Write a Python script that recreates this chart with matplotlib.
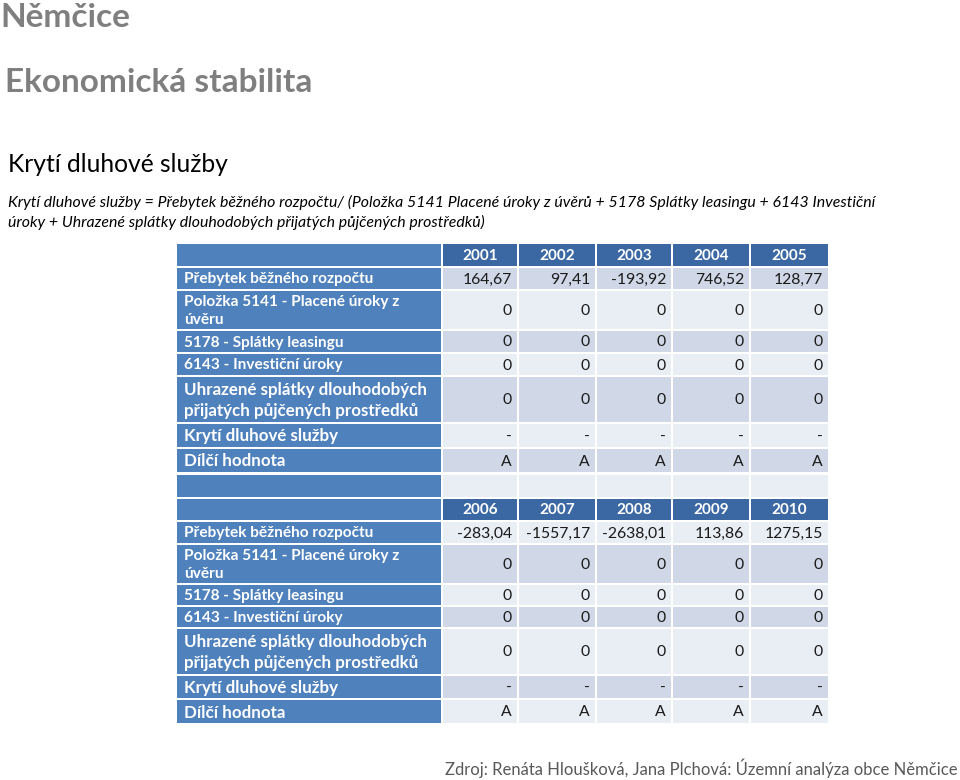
import matplotlib.pyplot as plt
from matplotlib.patches import Rectangle

plt.rcParams['font.family'] = ['Lato', 'DejaVu Sans']

# data
years_1 = ['2001', '2002', '2003', '2004', '2005']
years_2 = ['2006', '2007', '2008', '2009', '2010']
row_labels = ['Přebytek běžného rozpočtu',
              'Položka 5141 - Placené úroky z\núvěru',
              '5178 - Splátky leasingu',
              '6143 - Investiční úroky',
              'Uhrazené splátky dlouhodobých\npřijatých půjčených prostředků',
              'Krytí dluhové služby',
              'Dílčí hodnota']
prebytek_1 = [164.67, 97.41, -193.92, 746.52, 128.77]
prebytek_2 = [-283.04, -1557.17, -2638.01, 113.86, 1275.15]
polozka_5141_1 = [0, 0, 0, 0, 0]
polozka_5141_2 = [0, 0, 0, 0, 0]
leasing_1 = [0, 0, 0, 0, 0]
leasing_2 = [0, 0, 0, 0, 0]
invest_uroky_1 = [0, 0, 0, 0, 0]
invest_uroky_2 = [0, 0, 0, 0, 0]
splatky_1 = [0, 0, 0, 0, 0]
splatky_2 = [0, 0, 0, 0, 0]
kryti_1 = ['-', '-', '-', '-', '-']
kryti_2 = ['-', '-', '-', '-', '-']
dilci_1 = ['A', 'A', 'A', 'A', 'A']
dilci_2 = ['A', 'A', 'A', 'A', 'A']


def fmt(v):
    if isinstance(v, str):
        return v
    if v == 0:
        return '0'
    return f'{v:.2f}'.replace('.', ',')


block_1 = [prebytek_1, polozka_5141_1, leasing_1, invest_uroky_1, splatky_1, kryti_1, dilci_1]
block_2 = [prebytek_2, polozka_5141_2, leasing_2, invest_uroky_2, splatky_2, kryti_2, dilci_2]

# layout in pixels
W, H = 960, 780
fig = plt.figure(figsize=(W / 100, H / 100), dpi=100)
ax = fig.add_axes([0, 0, 1, 1])
ax.set_xlim(0, W)
ax.set_ylim(H, 0)
ax.axis('off')

LABEL_BLUE = '#4f81bd'
HEAD_BLUE = '#3b68a3'
BAND_DARK = '#d0d8e8'
BAND_LIGHT = '#e9edf4'

label_x = (177, 441)
col_x = [(443, 517), (519, 595), (597, 671), (673, 749), (751, 828)]
rows_y = [(244, 266), (268, 289), (291, 329), (331, 352), (354, 375), (377, 422),
          (424, 447), (449, 472), (475, 497), (499, 520), (522, 543), (545, 583),
          (585, 605), (607, 627), (629, 674), (676, 698), (700, 723)]
label_size = [11.1, 11.1, 11.1, 11.1, 12.2, 12.2, 12.2]

def cell(x0, x1, y0, y1, color):
    ax.add_patch(Rectangle((x0, y0), x1 - x0, y1 - y0, facecolor=color, edgecolor='none'))

# full row list: header, 7 rows, empty, header, 7 rows
table_rows = [('head', years_1)] + [('data', i, block_1[i]) for i in range(7)] + \
             [('empty',)] + [('head', years_2)] + [('data', i, block_2[i]) for i in range(7)]

for k, (row, (y0, y1)) in enumerate(zip(table_rows, rows_y)):
    yc = (y0 + y1) / 2
    cell(label_x[0], label_x[1], y0, y1, LABEL_BLUE)
    band = BAND_DARK if k % 2 == 1 else BAND_LIGHT
    if row[0] == 'head':
        for (x0, x1), yr in zip(col_x, row[1]):
            cell(x0, x1, y0, y1, HEAD_BLUE)
            ax.text((x0 + x1) / 2, yc + 1, yr, color='white', fontsize=11, fontweight='bold',
                    ha='center', va='center')
    elif row[0] == 'empty':
        for x0, x1 in col_x:
            cell(x0, x1, y0, y1, band)
    else:
        i, vals = row[1], row[2]
        ax.text(label_x[0] + 7, yc + 1, row_labels[i], color='white', fontsize=label_size[i],
                fontweight='bold', ha='left', va='center', linespacing=1.35)
        for (x0, x1), v in zip(col_x, vals):
            cell(x0, x1, y0, y1, band)
            ax.text(x1 - 5, yc + 1, fmt(v), color='#1a1a1a', fontsize=11.3,
                    ha='right', va='center')

# titles
ax.text(0, 27, 'Němčice', color='#7f7f7f', fontsize=24, fontweight='bold', va='baseline')
ax.text(5, 92, 'Ekonomická stabilita', color='#7f7f7f', fontsize=24, fontweight='bold', va='baseline')
ax.text(8, 172, 'Krytí dluhové služby', color='black', fontsize=17.7, va='baseline')
ax.text(8, 207, 'Krytí dluhové služby = Přebytek běžného rozpočtu/ (Položka 5141 Placené úroky z úvěrů '
        '+ 5178 Splátky leasingu + 6143 Investiční', fontsize=11.4, style='italic', va='baseline')
ax.text(8, 227, 'úroky + Uhrazené splátky dlouhodobých přijatých půjčených prostředků)',
        fontsize=11.4, style='italic', va='baseline')
ax.text(958, 775, 'Zdroj: Renáta Hloušková, Jana Plchová: Územní analýza obce Němčice',
        color='#595959', fontsize=12, ha='right', va='baseline')

fig.savefig('out.png', dpi=100)
